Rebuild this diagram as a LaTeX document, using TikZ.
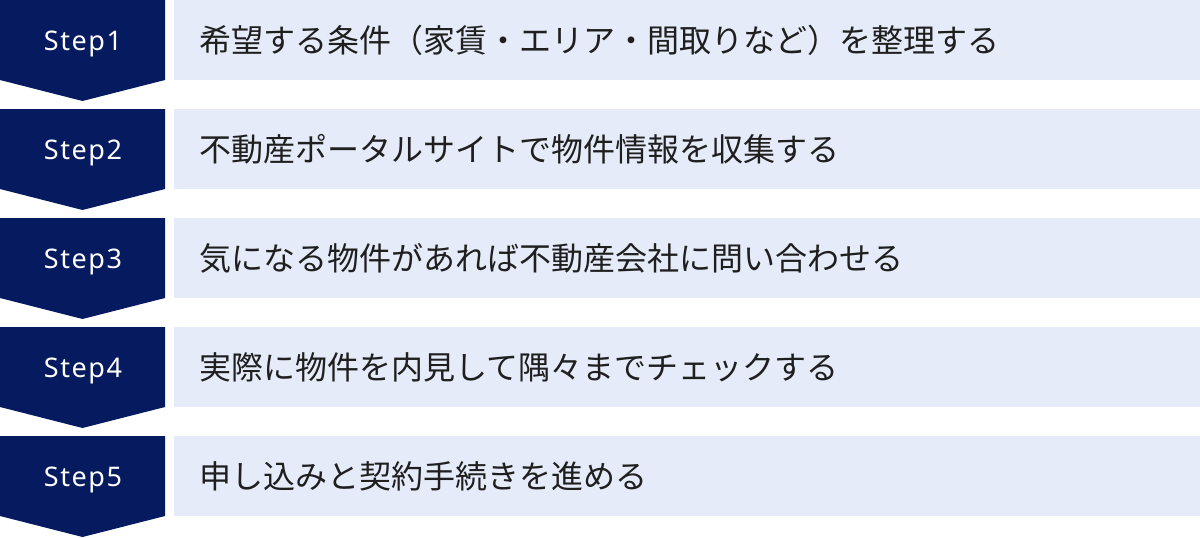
\documentclass[tikz,border=0pt]{standalone}
\usepackage{fontspec}
\setmainfont{Noto Sans CJK JP}
\newfontfamily\stepfont{Noto Sans}[LetterSpace=6]
\usetikzlibrary{positioning}
\definecolor{stepnavy}{HTML}{061A60}
\definecolor{rowblue}{HTML}{E5EBF8}

\begin{document}
\begin{tikzpicture}[x=1pt, y=-1pt,
    stepbox/.style={fill=stepnavy, draw=none},
    rowbox/.style={fill=rowblue, draw=none, minimum width=1026pt, minimum height=80pt, inner sep=0pt, anchor=north west},
    steplabel/.style={text=white, inner sep=0pt, anchor=base, font=\stepfont\fontsize{27}{30}\selectfont},
    rowlabel/.style={text=black!88, anchor=west, inner sep=0pt, font=\fontsize{32}{36}\selectfont}]
    \useasboundingbox (0,0) rectangle (1200,538);
    % five steps, one row each
    \foreach \n/\txt in {1/{希望する条件（家賃・エリア・間取りなど）を整理する},
                         2/{不動産ポータルサイトで物件情報を収集する},
                         3/{気になる物件があれば不動産会社に問い合わせる},
                         4/{実際に物件を内見して隅々までチェックする},
                         5/{申し込みと契約手続きを進める}}{
        \pgfmathsetmacro{\rowtop}{109*(\n-1)}
        \fill[stepbox] (0,\rowtop) -- (165,\rowtop) -- (165,\rowtop+80) -- (82.5,\rowtop+101) -- (0,\rowtop+80) -- cycle;
        \node[steplabel] (step\n) at (83,\rowtop+50) {Step\n};
        \node[rowbox] (row\n) at (174,\rowtop) {};
        \node[rowlabel] (txt\n) at ([xshift=25pt]row\n.west) {\txt};
    }
\end{tikzpicture}
\end{document}
